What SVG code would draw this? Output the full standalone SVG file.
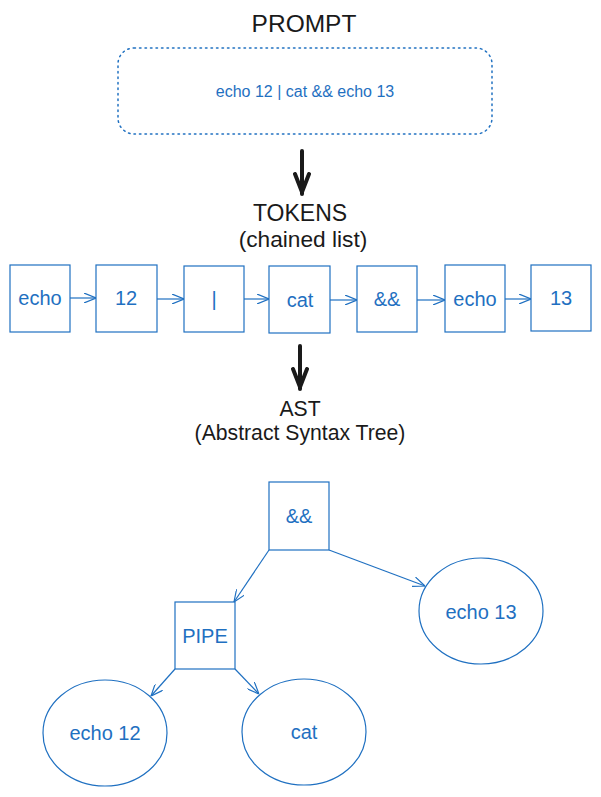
<svg xmlns="http://www.w3.org/2000/svg" width="601" height="797" viewBox="0 0 601 797">
<style>
.title{font-family:"Liberation Sans",Arial,sans-serif;fill:#1a1a1a;text-anchor:middle}
.lbl{font-family:"Liberation Sans",Arial,sans-serif;fill:#1f70c1;text-anchor:middle;dominant-baseline:central}
.box{fill:#fff;stroke:#1f70c1;stroke-width:1.2}
.edge{fill:none;stroke:#1f70c1;stroke-width:1.2}
.big{fill:none;stroke:#1a1a1a;stroke-width:4;stroke-linecap:round;stroke-linejoin:round}
</style>
<defs>
<marker id="ah" viewBox="0 0 12 10" refX="12" refY="5" markerWidth="12" markerHeight="10" markerUnits="userSpaceOnUse" orient="auto">
<path d="M0,0 L12,5 L0,10" fill="none" stroke="#1f70c1" stroke-width="1.2"/>
</marker>
<marker id="ah2" viewBox="0 0 22 18" refX="22" refY="9" markerWidth="22" markerHeight="18" markerUnits="userSpaceOnUse" orient="auto">
<path d="M2,2 L20,9 L2,16" fill="none" stroke="#1a1a1a" stroke-width="4" stroke-linecap="round" stroke-linejoin="round"/>
</marker>
</defs>
<rect width="601" height="797" fill="#fff"/>

<g id="titles">
<text class="title" x="304" y="32" font-size="24.5">PROMPT</text>
<text class="title" x="300" y="221" font-size="23">TOKENS</text>
<text class="title" x="303" y="247" font-size="22.7">(chained list)</text>
<text class="title" x="300" y="416" font-size="21.2">AST</text>
<text class="title" x="300" y="440" font-size="21.2">(Abstract Syntax Tree)</text>
</g>

<g id="prompt">
<rect x="118" y="48" width="374" height="86" rx="16" fill="none" stroke="#1f70c1" stroke-width="1.5" stroke-dasharray="1.5 4" stroke-linecap="round"/>
<text class="lbl" x="305" y="91" font-size="16">echo 12 | cat &amp;&amp; echo 13</text>
</g>

<g id="tok1"><rect class="box" x="10" y="265" width="60" height="67"/><text class="lbl" x="40" y="298" font-size="20">echo</text></g>
<g id="tok2"><rect class="box" x="96" y="265" width="61" height="67"/><text class="lbl" x="126" y="298" font-size="20">12</text></g>
<g id="tok3"><rect class="box" x="184" y="266" width="60" height="66"/><text class="lbl" x="214" y="299" font-size="20">|</text></g>
<g id="tok4"><rect class="box" x="269" y="266" width="61" height="67"/><text class="lbl" x="300" y="300" font-size="20">cat</text></g>
<g id="tok5"><rect class="box" x="357" y="266" width="60" height="66"/><text class="lbl" x="387" y="299" font-size="20">&amp;&amp;</text></g>
<g id="tok6"><rect class="box" x="445" y="265" width="60" height="67"/><text class="lbl" x="475" y="299" font-size="20">echo</text></g>
<g id="tok7"><rect class="box" x="531" y="265" width="60" height="66"/><text class="lbl" x="561" y="298" font-size="20">13</text></g>

<g id="and"><rect class="box" x="269" y="482" width="60" height="68"/><text class="lbl" x="299" y="516" font-size="20">&amp;&amp;</text></g>
<g id="pipe"><rect class="box" x="175" y="602" width="60" height="67"/><text class="lbl" x="205" y="636" font-size="20">PIPE</text></g>
<g id="echo13"><ellipse class="box" cx="481" cy="611" rx="62" ry="53"/><text class="lbl" x="481" y="612" font-size="20">echo 13</text></g>
<g id="echo12"><ellipse class="box" cx="105" cy="733" rx="62" ry="53"/><text class="lbl" x="105" y="733" font-size="20">echo 12</text></g>
<g id="cat"><ellipse class="box" cx="304" cy="732" rx="62" ry="53"/><text class="lbl" x="304" y="732" font-size="20">cat</text></g>

<g id="connectors">
<path class="big" d="M302,151 L302,194" marker-end="url(#ah2)"/>
<path class="big" d="M300,346 L300,389" marker-end="url(#ah2)"/>
<path class="edge" d="M70,298 L96,298" marker-end="url(#ah)"/>
<path class="edge" d="M157,299 L184,299" marker-end="url(#ah)"/>
<path class="edge" d="M244,299 L269,299" marker-end="url(#ah)"/>
<path class="edge" d="M330,300 L357,300" marker-end="url(#ah)"/>
<path class="edge" d="M417,300 L445,300" marker-end="url(#ah)"/>
<path class="edge" d="M505,299 L531,299" marker-end="url(#ah)"/>
<path class="edge" d="M269,550 L234,602" marker-end="url(#ah)"/>
<path class="edge" d="M329,550 L425,586" marker-end="url(#ah)"/>
<path class="edge" d="M175,669 L151,696" marker-end="url(#ah)"/>
<path class="edge" d="M235,669 L259,694" marker-end="url(#ah)"/>
</g>
</svg>
